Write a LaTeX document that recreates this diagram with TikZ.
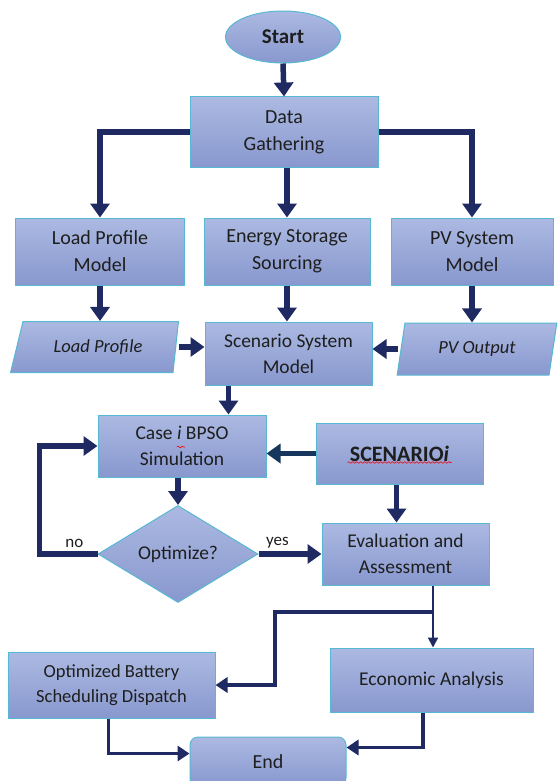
\documentclass[tikz,border=0pt]{standalone}
\usepackage{fontspec}
\setmainfont{Carlito}
\usetikzlibrary{arrows.meta,shapes.geometric,decorations.pathmorphing}
\definecolor{boxtop}{RGB}{172,185,226}
\definecolor{boxbot}{RGB}{136,152,206}
\definecolor{boxline}{RGB}{86,184,210}
\definecolor{flow}{RGB}{31,42,98}
\definecolor{flowdark}{RGB}{23,54,93}
\definecolor{txt}{RGB}{30,30,30}

\begin{document}
\begin{tikzpicture}[x=1pt, y=-1pt, >={Triangle[length=14pt, width=19pt]},
    every node/.style={font=\fontsize{20}{27}\selectfont, text=txt},
    box/.style={draw=boxline, line width=1pt, top color=boxtop, bottom color=boxbot,
      align=center, inner sep=2pt},
    io/.style={box, trapezium, trapezium stretches=true,
      font=\fontsize{18.5}{24}\selectfont\itshape},
    big/.style={->, flow, line width=5.5pt},
    mid/.style={-{Triangle[length=12pt, width=15pt]}, flow, line width=3.5pt},
    thinflow/.style={-{Triangle[length=10pt, width=10pt]}, flow, line width=2pt},
    spell/.style={red, line width=0.6pt, decorate,
      decoration={snake, amplitude=0.8pt, segment length=4pt}}]
  \useasboundingbox (0,0) rectangle (557,781);
  % top part
  \node[box, ellipse, minimum width=115pt, minimum height=52pt,
    font=\fontsize{21}{26}\selectfont\bfseries] (start) at (283,37) {Start};
  \node[box, minimum width=188pt, minimum height=70pt] (data) at (284,132) {Data\\Gathering};
  \node[box, minimum width=169pt, minimum height=67pt] (load) at (100,251.5) {Load Profile\\Model};
  \node[box, minimum width=166pt, minimum height=67pt] (storage) at (287,251.5) {Energy Storage\\Sourcing};
  \node[box, minimum width=162pt, minimum height=67pt] (pvmod) at (472,251.5) {PV System\\Model};
  \node[io, trapezium left angle=68, trapezium right angle=100,
    minimum width=168pt, minimum height=51pt] (lprof) at (98,347) {Load Profile};
  \node[box, minimum width=167pt, minimum height=63pt,
    font=\fontsize{19.5}{26}\selectfont] (scen) at (288.5,353.5) {Scenario System\\Model};
  \node[io, trapezium left angle=77, trapezium right angle=103,
    minimum width=160pt, minimum height=52pt] (pvout) at (477,349) {PV Output};
  % middle part
  \node[box, minimum width=168pt, minimum height=62pt,
    font=\fontsize{19.5}{26}\selectfont] (casei) at (182,446) {Case \textit{i} BPSO\\Simulation};
  \node[box, minimum width=167pt, minimum height=61pt,
    font=\fontsize{22}{26}\selectfont\bfseries] (scenI) at (399.5,453.5) {SCENARIO\textit{i}};
  \node[box, diamond, inner sep=0pt, minimum width=160pt, minimum height=97pt,
    font=\fontsize{19.5}{26}\selectfont] (opt) at (178,554) {Optimize?};
  \node[box, minimum width=167pt, minimum height=62pt,
    font=\fontsize{19.5}{26}\selectfont] (eval) at (405.5,554) {Evaluation and\\Assessment};
  % bottom part
  \node[box, minimum width=207pt, minimum height=66pt,
    font=\fontsize{18.5}{25}\selectfont] (optbat) at (111.5,685) {Optimized Battery\\Scheduling Dispatch};
  \node[box, minimum width=203pt, minimum height=64pt,
    font=\fontsize{19.5}{26}\selectfont] (econ) at (431.5,680) {Economic Analysis};
  \node[box, rounded corners=8pt, minimum width=156pt, minimum height=49pt] (endn) at (268,761.5) {End};
  \coordinate (split) at (433,612);
  \coordinate (turn) at (275,612);
  % spelling marks
  \draw[spell] ([shift={(-52,9)}]scenI.center) -- ++(104,0);
  \draw[spell] ([shift={(-5,1)}]casei.center) -- ++(8,0);
  % connectors
  \draw[big] (start.south) -- (data.north);
  \draw[big] (data.west) -| (load.north);
  \draw[big] (storage.north |- data.south) -- (storage.north);
  \draw[big] (data.east) -| (pvmod.north);
  \draw[big] (load.south) -- (load.south |- lprof.north);
  \draw[big] (storage.south) -- (storage.south |- scen.north);
  \draw[big] (pvmod.south) -- (pvmod.south |- pvout.north);
  \draw[big, shorten <=3pt] (lprof.east) -- (lprof.east -| scen.west);
  \draw[big, shorten <=3pt] (pvout.west) -- (pvout.west -| scen.east);
  \draw[big] ([xshift=-60pt]scen.south) -- ([xshift=-60pt]scen.south |- casei.north);
  \draw[big, flowdark] (scenI.west) -- (scenI.west -| casei.east);
  \draw[big] (opt.north |- casei.south) -- (opt.north);
  \draw[big] (opt.west) -- node[pos=0.4, above, font=\fontsize{17}{20}\selectfont] {no} ++(-58,0) |- (casei.west);
  \draw[big] (opt.east) -- node[pos=0.3, above, font=\fontsize{17}{20}\selectfont] {yes} (opt.east -| eval.west);
  \draw[big] ([xshift=-3pt]scenI.south) -- ([xshift=-3pt]scenI.south |- eval.north);
  \draw[thinflow] ([xshift=27.5pt]eval.south) -- ([xshift=27.5pt]eval.south |- econ.north);
  \draw[mid] (split) -- (turn) |- (optbat.east);
  \draw[mid] ([xshift=-3pt]optbat.south) |- ([yshift=8pt]endn.west);
  \draw[mid] ([xshift=-8.5pt]econ.south) |- ([yshift=14pt]endn.east);
\end{tikzpicture}
\end{document}
